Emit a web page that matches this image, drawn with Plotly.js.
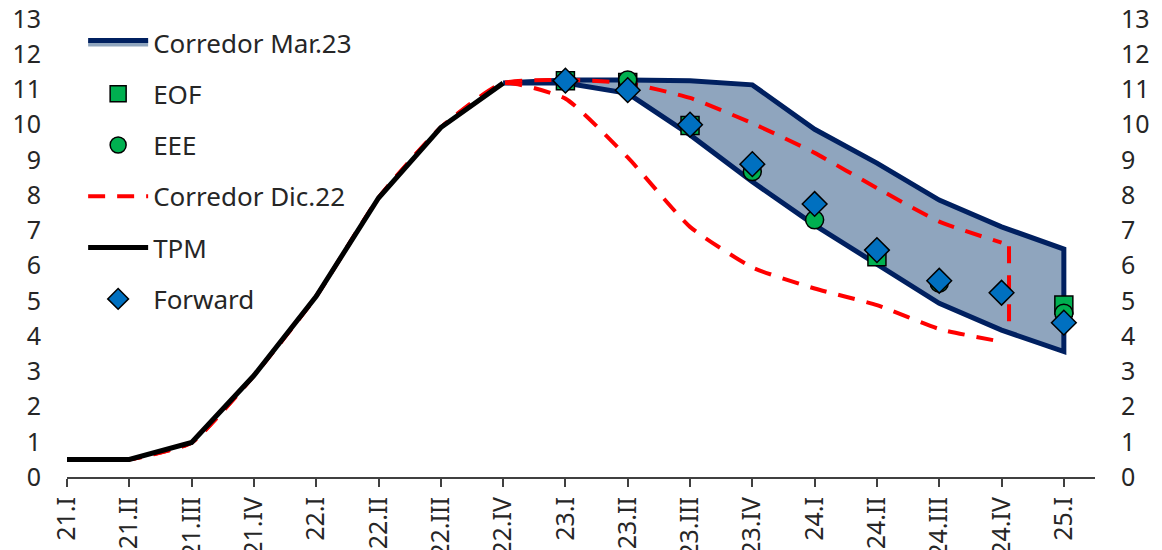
<!DOCTYPE html>
<html>
<head>
<meta charset="utf-8">
<script src="https://cdn.plot.ly/plotly-3.0.1.min.js"></script>
<style>
  html, body { margin: 0; padding: 0; background: #ffffff; }
  #grafico { width: 1162px; height: 550px; }
</style>
</head>
<body>
<div id="grafico"></div>
<script>
// Trimestres del eje horizontal
const categorias = ['21.I','21.II','21.III','21.IV','22.I','22.II','22.III','22.IV',
                    '23.I','23.II','23.III','23.IV','24.I','24.II','24.III','24.IV','25.I'];

// TPM efectiva (21.I a 22.IV)
const tpm = [0.5, 0.5, 0.98, 2.88, 5.13, 7.92, 9.92, 11.18];

// Corredor IPoM marzo 2023 (22.IV a 25.I)
const corredorMar23Sup = [11.18, 11.27, 11.27, 11.25, 11.13, 9.87, 8.91, 7.86, 7.10, 6.47];
const corredorMar23Inf = [11.18, 11.18, 10.89, 9.71, 8.38, 7.15, 6.02, 4.93, 4.17, 3.56];

// Corredor IPoM diciembre 2022 (21.I a 24.IV)
const corredorDic22Sup = [0.5, 0.5, 0.98, 2.88, 5.13, 7.92, 9.92, 11.18,
                          11.27, 11.18, 10.76, 10.04, 9.20, 8.20, 7.25, 6.65];
const corredorDic22Inf = [0.5, 0.5, 0.98, 2.88, 5.13, 7.92, 9.92, 11.18,
                          10.74, 9.07, 7.10, 5.95, 5.35, 4.88, 4.20, 3.84];
// Cierre vertical del corredor de diciembre
const cierreDic22X = [15.12, 15.12];
const cierreDic22Y = [6.55, 4.17];

// Encuestas y precios de activos
const eofCat = ['23.I', '23.II', '23.III', '24.II', '25.I'];
const eof    = [11.25, 11.20, 9.98, 6.25, 4.88];
const eeeCat = ['23.II', '23.IV', '24.I', '24.III', '25.I'];
const eee    = [11.27, 8.67, 7.30, 5.50, 4.65];
const forwardCat = ['23.I','23.II','23.III','23.IV','24.I','24.II','24.III','24.IV','25.I'];
const forward    = [11.25, 10.98, 10.00, 8.88, 7.75, 6.44, 5.57, 5.23, 4.38];

const ejeY = [0,1,2,3,4,5,6,7,8,9,10,11,12,13];

// posiciones numéricas de cada trimestre
const idx = c => categorias.indexOf(c);
const range = (a, n) => Array.from({length: n}, (_, i) => a + i);

const FUENTE = 'Noto Sans, Open Sans, sans-serif';
const TXT = '#262626';

const mar23X = range(idx('22.IV'), corredorMar23Sup.length);
const polyX = mar23X.concat(mar23X.slice().reverse());
const polyY = corredorMar23Sup.concat(corredorMar23Inf.slice().reverse());

const rojo = { color: '#FF0000', width: 4, dash: '17px,12px', shape: 'spline', smoothing: 0.5 };

const traces = [
  {
    name: 'Corredor Mar.23', x: polyX, y: polyY, mode: 'lines', fill: 'toself',
    fillcolor: '#8FA5BE', line: { color: '#002060', width: 5 },
    legendgroup: 'mar23', legendrank: 1, hoverinfo: 'skip'
  },
  {
    name: 'Corredor Dic.22', x: range(0, corredorDic22Sup.length), y: corredorDic22Sup,
    mode: 'lines', line: rojo, legendgroup: 'dic22', legendrank: 4
  },
  {
    name: 'Corredor Dic.22', x: range(0, corredorDic22Inf.length), y: corredorDic22Inf,
    mode: 'lines', line: rojo, legendgroup: 'dic22', showlegend: false
  },
  {
    name: 'Corredor Dic.22', x: cierreDic22X, y: cierreDic22Y,
    mode: 'lines', line: { color: '#FF0000', width: 4, dash: '17px,12px' },
    legendgroup: 'dic22', showlegend: false
  },
  {
    name: 'TPM', x: range(0, tpm.length), y: tpm, mode: 'lines',
    line: { color: '#000000', width: 5 }, legendgroup: 'tpm', legendrank: 5
  },
  {
    name: 'EOF', x: eofCat.map(idx), y: eof, mode: 'markers',
    marker: { symbol: 'square', size: 18, color: '#00B050', line: { color: '#000000', width: 1.5 } },
    legendgroup: 'eof', legendrank: 2
  },
  {
    name: 'EEE', x: eeeCat.map(idx), y: eee, mode: 'markers',
    marker: { symbol: 'circle', size: 18, color: '#00B050', line: { color: '#000000', width: 1.5 } },
    legendgroup: 'eee', legendrank: 3
  },
  {
    name: 'Forward', x: forwardCat.map(idx), y: forward, mode: 'markers', yaxis: 'y2',
    marker: { symbol: 'diamond', size: 19, color: '#0070C0', line: { color: '#000000', width: 1.5 } },
    legendgroup: 'fwd', legendrank: 6
  }
];

const ejeYComun = {
  range: [0, 13], tickvals: ejeY, ticktext: ejeY.map(String),
  showgrid: false, zeroline: false, showline: false, ticks: '',
  ticklabelstandoff: 25,
  tickfont: { family: FUENTE, size: 25, color: TXT }, fixedrange: true
};

const layout = {
  width: 1162, height: 550,
  margin: { l: 67, r: 67, t: 19, b: 73 },
  paper_bgcolor: '#ffffff', plot_bgcolor: '#ffffff',
  font: { family: FUENTE, size: 25, color: TXT },
  showlegend: true,
  legend: {
    x: 0.0157, y: 1.0, xanchor: 'left', yanchor: 'top',
    bgcolor: 'rgba(0,0,0,0)', font: { family: FUENTE, size: 26, color: TXT },
    traceorder: 'grouped', tracegroupgap: 14.5, itemwidth: 60, maxheight: 540
  },
  xaxis: {
    range: [0, 16.5], tickvals: range(0, categorias.length), ticktext: categorias,
    tickangle: -90, showgrid: false, zeroline: false,
    showline: true, linecolor: '#404040', linewidth: 2,
    ticks: 'outside', ticklen: 8, tickwidth: 2, tickcolor: '#404040',
    tickfont: { family: FUENTE, size: 25, color: TXT }, fixedrange: true
  },
  yaxis: Object.assign({ side: 'left' }, ejeYComun),
  yaxis2: Object.assign({ side: 'right', overlaying: 'y' }, ejeYComun)
};

Plotly.newPlot('grafico', traces, layout, { displayModeBar: false, staticPlot: true });
</script>
</body>
</html>
